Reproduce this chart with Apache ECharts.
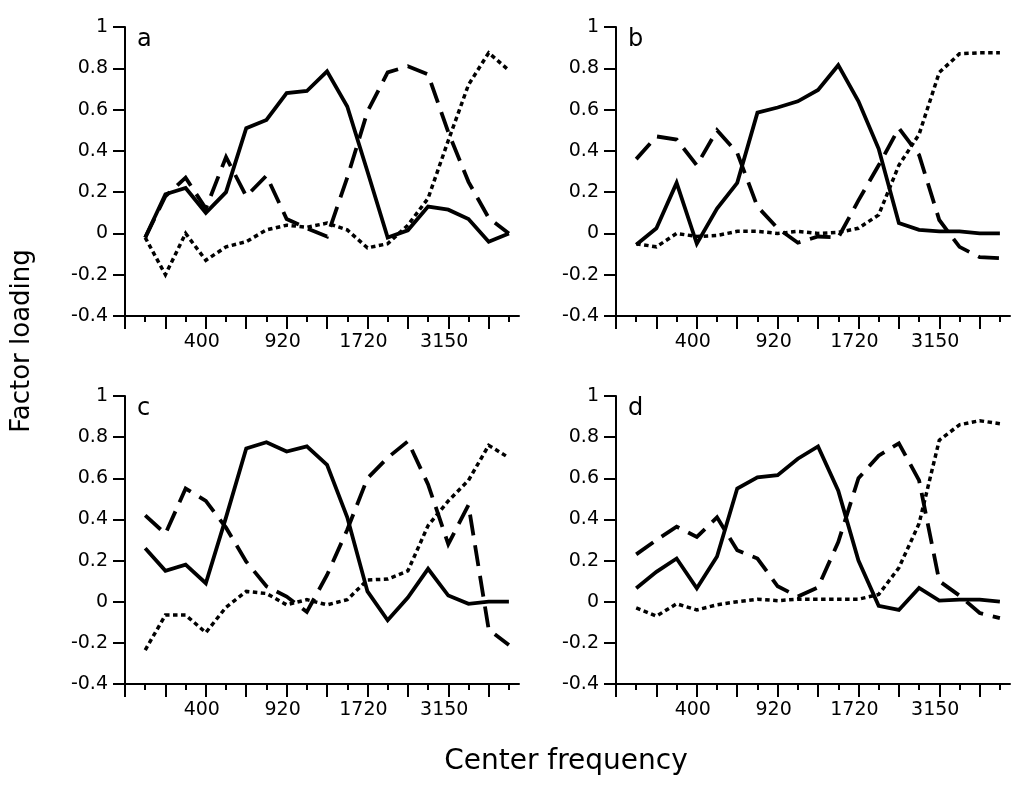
<!DOCTYPE html>
<html>
<head>
<meta charset="utf-8">
<script src="https://cdn.jsdelivr.net/npm/echarts@6/dist/echarts.min.js"></script>
<style>
html,body{margin:0;padding:0;background:#fff;}
#chart{width:1015px;height:793px;}
</style>
</head>
<body>
<div id="chart"></div>
<script>
// Band index (1..19) of each point; labelled ticks
const bandIndex = [1,2,3,4,5,6,7,8,9,10,11,12,13,14,15,16,17,18,19];
const tickLabelPositions = [4, 8, 12, 16];
const tickLabels = ['400', '920', '1720', '3150'];
const panelLetters = ['a', 'b', 'c', 'd'];

// Panel a
const aSolid  = [-0.02, 0.19, 0.22, 0.10, 0.20, 0.51, 0.55, 0.68, 0.69, 0.785, 0.615, 0.30, -0.02, 0.015, 0.13, 0.115, 0.07, -0.04, 0.0];
const aDashed = [-0.02, 0.18, 0.27, 0.12, 0.37, 0.18, 0.28, 0.07, 0.025, -0.015, 0.27, 0.59, 0.78, 0.81, 0.77, 0.49, 0.25, 0.075, 0.0];
const aDotted = [-0.02, -0.2, 0.0, -0.13, -0.065, -0.04, 0.017, 0.04, 0.03, 0.05, 0.017, -0.07, -0.05, 0.04, 0.17, 0.45, 0.72, 0.875, 0.79];
// Panel b
const bSolid  = [-0.055, 0.025, 0.245, -0.05, 0.12, 0.245, 0.585, 0.61, 0.64, 0.695, 0.815, 0.64, 0.41, 0.05, 0.017, 0.01, 0.01, 0.0, 0.0];
const bDashed = [0.36, 0.47, 0.455, 0.33, 0.5, 0.39, 0.13, 0.025, -0.045, -0.015, -0.02, 0.16, 0.33, 0.51, 0.38, 0.065, -0.065, -0.115, -0.12];
const bDotted = [-0.05, -0.065, 0.0, -0.015, -0.01, 0.01, 0.01, 0.0, 0.01, 0.0, 0.005, 0.025, 0.09, 0.33, 0.48, 0.78, 0.87, 0.875, 0.875];
// Panel c
const cSolid  = [0.26, 0.15, 0.18, 0.09, 0.41, 0.745, 0.775, 0.73, 0.755, 0.665, 0.41, 0.05, -0.09, 0.02, 0.16, 0.03, -0.01, 0.0, 0.0];
const cDashed = [0.42, 0.33, 0.55, 0.49, 0.36, 0.195, 0.075, 0.025, -0.05, 0.13, 0.35, 0.6, 0.7, 0.78, 0.57, 0.28, 0.47, -0.135, -0.21];
const cDotted = [-0.235, -0.065, -0.065, -0.15, -0.027, 0.05, 0.04, -0.015, 0.01, -0.015, 0.01, 0.106, 0.11, 0.15, 0.37, 0.49, 0.59, 0.76, 0.70];
// Panel d
const dSolid  = [0.065, 0.145, 0.21, 0.065, 0.22, 0.55, 0.605, 0.615, 0.695, 0.755, 0.54, 0.2, -0.02, -0.04, 0.067, 0.005, 0.01, 0.01, 0.0];
const dDashed = [0.23, 0.30, 0.365, 0.315, 0.41, 0.25, 0.21, 0.075, 0.025, 0.07, 0.29, 0.60, 0.71, 0.77, 0.59, 0.1, 0.03, -0.055, -0.08];
const dDotted = [-0.03, -0.07, -0.01, -0.04, -0.015, 0.0, 0.012, 0.005, 0.012, 0.012, 0.012, 0.012, 0.035, 0.165, 0.38, 0.785, 0.86, 0.88, 0.865];

const panels = [
  {solid: aSolid, dashed: aDashed, dotted: aDotted},
  {solid: bSolid, dashed: bDashed, dotted: bDotted},
  {solid: cSolid, dashed: cDashed, dotted: cDotted},
  {solid: dSolid, dashed: dDashed, dotted: dDotted}
];

const FONT = 'DejaVu Sans';
const gridPos = [
  {left: 125, top: 27, width: 394, height: 289},
  {left: 616, top: 27, width: 394, height: 289},
  {left: 125, top: 396, width: 394, height: 288},
  {left: 616, top: 396, width: 394, height: 288}
];
const evenTicks = [0,2,4,6,8,10,12,14,16,18];
const oddTicks = [1,3,5,7,9,11,13,15,17,19];

const grids = [], xAxes = [], yAxes = [], series = [], graphics = [];
gridPos.forEach((g, gi) => {
  grids.push(Object.assign({}, g));
  xAxes.push({
    type: 'value', gridIndex: gi, min: 0, max: 19.5, interval: 2, position: 'bottom',
    axisLine: {show: true, onZero: false, lineStyle: {color: '#000', width: 2}},
    axisTick: {show: true, length: 13, customValues: evenTicks, lineStyle: {color: '#000', width: 2}},
    axisLabel: {
      show: true, customValues: tickLabelPositions, margin: 17, color: '#000',
      fontFamily: FONT, fontSize: 19, padding: [0, 8, 0, 0],
      formatter: v => { const k = tickLabelPositions.indexOf(Math.round(v)); return k >= 0 ? tickLabels[k] : ''; }
    },
    splitLine: {show: false}
  });
  xAxes.push({
    type: 'value', gridIndex: gi, min: 0, max: 19.5, interval: 1, position: 'bottom',
    axisLine: {show: false, onZero: false},
    axisTick: {show: true, length: 6, customValues: oddTicks, lineStyle: {color: '#000', width: 2}},
    axisLabel: {show: false},
    splitLine: {show: false}
  });
  yAxes.push({
    type: 'value', gridIndex: gi, min: -0.4, max: 1, interval: 0.2,
    axisLine: {show: true, lineStyle: {color: '#000', width: 2}},
    axisTick: {show: true, length: 12, lineStyle: {color: '#000', width: 2}},
    axisLabel: {margin: 17, color: '#000', fontFamily: FONT, fontSize: 19,
      formatter: v => String(Math.round(v * 10) / 10)},
    splitLine: {show: false}
  });
  const p = panels[gi];
  const mk = (vals, type, width, z) => ({
    type: 'line', xAxisIndex: gi * 2, yAxisIndex: gi, showSymbol: false, symbol: 'none',
    data: vals.map((v, i) => [bandIndex[i], v]), z: z,
    lineStyle: {color: '#000', width: width, type: type, cap: 'butt', join: 'miter'},
    animation: false, silent: true
  });
  series.push(mk(p.dotted, [4.5, 3.5], 3.5, 2));
  series.push(mk(p.dashed, [21, 10], 3.8, 3));
  series.push(mk(p.solid, 'solid', 3.8, 4));
  graphics.push({
    type: 'text', x: g.left + 12, y: g.top + 1,
    style: {text: panelLetters[gi], font: '24px "' + FONT + '"', fill: '#000', textAlign: 'left', textVerticalAlign: 'top'}
  });
});

graphics.push({
  type: 'text', x: 22, y: 341, rotation: Math.PI / 2,
  style: {text: 'Factor loading', font: '26px "' + FONT + '"', fill: '#000', textAlign: 'center', textVerticalAlign: 'middle'}
});
graphics.push({
  type: 'text', x: 566, y: 762,
  style: {text: 'Center frequency', font: '28px "' + FONT + '"', fill: '#000', textAlign: 'center', textVerticalAlign: 'middle'}
});

const chart = echarts.init(document.getElementById('chart'), null, {renderer: 'canvas'});
chart.setOption({
  animation: false,
  backgroundColor: '#fff',
  grid: grids, xAxis: xAxes, yAxis: yAxes, series: series,
  graphic: graphics
});
</script>
</body>
</html>
